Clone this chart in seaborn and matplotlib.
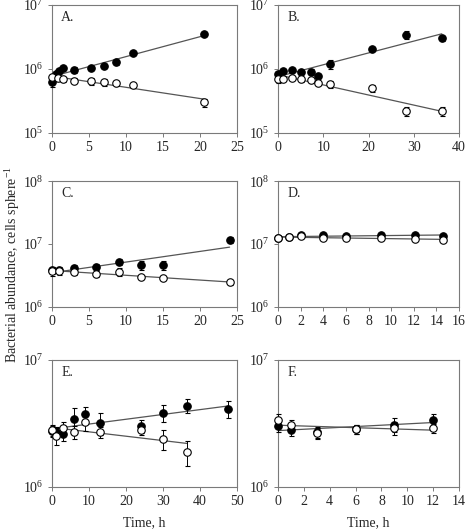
import numpy as np
import matplotlib
matplotlib.use("Agg")
import matplotlib.pyplot as plt
import seaborn as sns
from matplotlib.ticker import FixedLocator, NullLocator, FuncFormatter

# Panel A
a_filled_t = [0, 0.5, 1.0, 1.5, 3.0, 5.3, 7.0, 8.7, 11.0, 20.5]
a_filled_n = [6.2e5, 8.4e5, 9.4e5, 1.02e6, 9.6e5, 1.05e6, 1.1e6, 1.27e6, 1.77e6, 3.5e6]
a_filled_err = [0.17, 0.06, 0.05, 0.05, 0.1, 0.06, 0.07, 0.1, 0.05, 0.08]
a_open_t = [0, 0.8, 1.5, 3.0, 5.3, 7.0, 8.7, 11.0, 20.5]
a_open_n = [7.4e5, 7.2e5, 6.9e5, 6.6e5, 6.4e5, 6.2e5, 6.0e5, 5.6e5, 3.0e5]
a_open_err = [0.08, 0.1, 0.1, 0.1, 0.12, 0.12, 0.1, 0.08, 0.15]

# Panel B
b_filled_t = [0, 1.0, 3.0, 5.0, 7.4, 8.9, 11.5, 20.8, 28.3, 36.2]
b_filled_n = [8.3e5, 9.3e5, 9.7e5, 8.9e5, 9.1e5, 7.8e5, 1.18e6, 2.05e6, 3.4e6, 3.0e6]
b_filled_err = [0.1, 0.06, 0.05, 0.06, 0.1, 0.08, 0.15, 0.06, 0.15, 0.08]
b_open_t = [0, 1.0, 3.0, 5.0, 7.4, 8.9, 11.5, 20.8, 28.3, 36.2]
b_open_n = [7.1e5, 7.1e5, 7.3e5, 6.9e5, 6.8e5, 6.0e5, 5.8e5, 5.0e5, 2.2e5, 2.2e5]
b_open_err = [0.15, 0.06, 0.05, 0.08, 0.08, 0.06, 0.12, 0.12, 0.15, 0.15]

# Panel C
c_filled_t = [0, 1, 3, 6, 9, 12, 15, 24]
c_filled_n = [3.8e6, 3.9e6, 4.2e6, 4.3e6, 5.2e6, 4.6e6, 4.6e6, 1.17e7]
c_filled_err = [0.12, 0.12, 0.12, 0.12, 0.12, 0.15, 0.15, 0.1]
c_open_t = [0, 1, 3, 6, 9, 12, 15, 24]
c_open_n = [3.7e6, 3.7e6, 3.55e6, 3.4e6, 3.6e6, 3.0e6, 2.9e6, 2.45e6]
c_open_err = [0.15, 0.12, 0.1, 0.12, 0.15, 0.05, 0.06, 0.1]

# Panel D
d_filled_t = [0, 1, 2, 4, 6, 9.1, 12.1, 14.6]
d_filled_n = [1.24e7, 1.27e7, 1.38e7, 1.4e7, 1.35e7, 1.38e7, 1.38e7, 1.35e7]
d_filled_err = [0.03, 0.03, 0.03, 0.03, 0.03, 0.03, 0.03, 0.03]
d_open_t = [0, 1, 2, 4, 6, 9.1, 12.1, 14.6]
d_open_n = [1.24e7, 1.27e7, 1.36e7, 1.24e7, 1.23e7, 1.26e7, 1.21e7, 1.16e7]
d_open_err = [0.03, 0.03, 0.03, 0.03, 0.03, 0.03, 0.03, 0.03]

# Panel E
e_filled_t = [0, 1, 3, 6, 9, 13, 24, 30, 36.5, 47.5]
e_filled_n = [2.75e6, 2.69e6, 2.61e6, 3.46e6, 3.78e6, 3.2e6, 3.0e6, 3.83e6, 4.38e6, 4.1e6]
e_filled_err = [0.1, 0.1, 0.12, 0.22, 0.12, 0.2, 0.12, 0.15, 0.12, 0.15]
e_open_t = [0, 1, 3, 6, 9, 13, 24, 30, 36.5]
e_open_n = [2.8e6, 2.54e6, 2.94e6, 2.72e6, 3.23e6, 2.72e6, 2.8e6, 2.39e6, 1.88e6]
e_open_err = [0.1, 0.15, 0.1, 0.12, 0.15, 0.1, 0.08, 0.18, 0.22]

# Panel F
f_filled_t = [0, 1, 3, 6, 9, 12]
f_filled_n = [3.0e6, 2.8e6, 2.72e6, 2.84e6, 3.1e6, 3.36e6]
f_filled_err = [0.1, 0.1, 0.1, 0.08, 0.12, 0.12]
f_open_t = [0, 1, 3, 6, 9, 12]
f_open_n = [3.36e6, 3.07e6, 2.67e6, 2.84e6, 2.92e6, 2.89e6]
f_open_err = [0.12, 0.1, 0.1, 0.08, 0.12, 0.08]

panels = [
    ("A.", a_filled_t, a_filled_n, a_filled_err, a_open_t, a_open_n, a_open_err, (0, 25, 5), (1e5, 1e7)),
    ("B.", b_filled_t, b_filled_n, b_filled_err, b_open_t, b_open_n, b_open_err, (0, 40, 10), (1e5, 1e7)),
    ("C.", c_filled_t, c_filled_n, c_filled_err, c_open_t, c_open_n, c_open_err, (0, 25, 5), (1e6, 1e8)),
    ("D.", d_filled_t, d_filled_n, d_filled_err, d_open_t, d_open_n, d_open_err, (0, 16, 2), (1e6, 1e8)),
    ("E.", e_filled_t, e_filled_n, e_filled_err, e_open_t, e_open_n, e_open_err, (0, 50, 10), (1e6, 1e7)),
    ("F.", f_filled_t, f_filled_n, f_filled_err, f_open_t, f_open_n, f_open_err, (0, 14, 2), (1e6, 1e7)),
]

sns.set_style("ticks")
plt.rcParams["font.family"] = ["Liberation Serif", "DejaVu Serif"]
plt.rcParams["mathtext.fontset"] = "custom"
plt.rcParams["mathtext.rm"] = "Liberation Serif"
plt.rcParams["font.size"] = 10

GREY = "#7a7a7a"
LINE = "#555555"

fig = plt.figure(figsize=(4.66, 5.29), dpi=100)
col_left = [0.1116, 0.5966]
col_width = [0.397, 0.3884]
row_bottom = [0.7486, 0.4197, 0.0794]
row_height = [0.242, 0.238, 0.240]


def exp_fit(t, n):
    # log-linear least squares, like the exponential fits in the figure
    t = np.asarray(t, float)
    slope, icpt = np.polyfit(t, np.log10(n), 1)
    tt = np.linspace(t.min(), t.max(), 50)
    return tt, 10 ** (icpt + slope * tt)


def pow_label(v, pos):
    return r"$\mathregular{10^{%d}}$" % int(round(np.log10(v)))


def points(ax, t, n, err, face, z):
    n = np.asarray(n)
    cont = ax.errorbar(t, n, yerr=n * np.asarray(err), fmt="o", ms=5.4, mfc=face,
                       mec="black", mew=0.8, ecolor="black", elinewidth=0.7,
                       capsize=1.8, capthick=0.7, zorder=z)
    for art in cont.get_children():
        art.set_clip_on(False)


for i, (lab, ft, fn, fe, ot, on, oe, xr, yr) in enumerate(panels):
    r, c = divmod(i, 2)
    ax = fig.add_axes([col_left[c], row_bottom[r], col_width[c], row_height[r]])
    ax.set_yscale("log")

    for t, n in [(ft, fn), (ot, on)]:
        tt, yy = exp_fit(t, n)
        sns.lineplot(x=tt, y=yy, ax=ax, color=LINE, lw=0.9, zorder=2)

    points(ax, ft, fn, fe, "black", 3)
    points(ax, ot, on, oe, "white", 4)

    ax.set_xlim(xr[0], xr[1])
    ax.set_ylim(*yr)
    ax.xaxis.set_major_locator(FixedLocator(np.arange(xr[0], xr[1] + 0.01, xr[2])))
    decades = 10.0 ** np.arange(np.log10(yr[0]), np.log10(yr[1]) + 0.1)
    ax.yaxis.set_major_locator(FixedLocator(decades))
    ax.yaxis.set_minor_locator(NullLocator())
    ax.yaxis.set_major_formatter(FuncFormatter(pow_label))
    ax.tick_params(direction="out", length=3, width=0.7, color=GREY, labelsize=10, pad=3)
    for sp in ax.spines.values():
        sp.set_visible(True)
        sp.set_color(GREY)
        sp.set_linewidth(0.8)
    ax.set_xlabel("Time, h" if r == 2 else "", fontsize=10, labelpad=6)
    ax.set_ylabel("")
    ax.text(0.05, 0.905, lab, transform=ax.transAxes, fontsize=10, va="center", ha="left")

fig.text(0.027, 0.5, r"Bacterial abundance, cells sphere$\mathregular{^{-1}}$",
         rotation=90, va="center", ha="center", fontsize=10)

fig.savefig("out.png", dpi=100)
